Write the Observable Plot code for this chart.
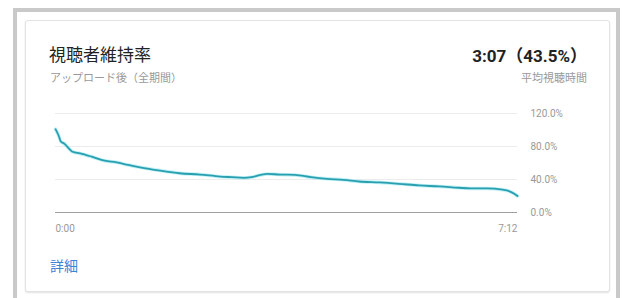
<!DOCTYPE html>
<html><head><meta charset="utf-8">
<script src="https://cdn.jsdelivr.net/npm/d3@7"></script>
<script src="https://cdn.jsdelivr.net/npm/@observablehq/plot@0.6"></script>
<style>
html,body{margin:0;padding:0;width:625px;height:298px;overflow:hidden;background:#fff;font-family:"Noto Sans CJK JP","Noto Sans",Roboto,sans-serif;}
#outer{position:absolute;left:13px;top:8px;width:607px;height:300px;border:4px solid #c9c9c9;border-bottom:none;box-sizing:border-box;}
#card{position:absolute;left:25px;top:20px;width:585px;height:272px;border:1px solid #e3e3e3;border-radius:3px;box-shadow:0 1px 2px rgba(0,0,0,0.12);box-sizing:border-box;background:#fff;}
.t{position:absolute;white-space:nowrap;}
#chart{position:absolute;left:0;top:0;}
</style></head>
<body>
<div id="outer"></div>
<div id="card"></div>
<div class="t" style="left:49px;top:45px;font-size:17px;line-height:17px;color:#222;">視聴者維持率</div>
<div class="t" style="left:50px;top:72px;font-size:11px;line-height:11px;color:#999;">アップロード後（全期間）</div>
<div class="t" style="right:38px;top:48px;font-size:17px;line-height:17px;color:#222;font-weight:bold;font-family:Roboto,'Noto Sans CJK JP',sans-serif;">3:07（43.5%）</div>
<div class="t" style="right:38px;top:72px;font-size:11px;line-height:11px;color:#999;">平均視聴時間</div>
<div class="t" style="left:50px;top:258px;font-size:14px;line-height:14px;color:#3e82d8;">詳細</div>
<div id="chart"></div>
<script>
const seconds = [0,3,5,8,16,23,34,46,57,68,79,98,116,135,154,165,176,183,191,198,210,224,239,254,269,284,303,321,340,359,377,388,403,418,424,429,432];
const retention = [101,93,86,83.6,73.6,71.6,67.6,62.8,60.8,57.6,54.8,50.8,47.6,46,43.6,42.8,42,42.8,45.2,46.8,46,45.6,42.8,40.8,39.6,37.6,36.4,34.8,32.8,31.6,30,29.2,29.2,27.6,26,22.8,20];
const yTicks = [0,40,80,120];
const yTickLabels = ["0.0%","40.0%","80.0%","120.0%"];
const xTicks = [0,432];
const xTickLabels = ["0:00","7:12"];

const data = seconds.map((s,i)=>({s, r: retention[i]}));

const chart = Plot.plot({
  width: 625,
  height: 298,
  marginLeft: 55,
  marginRight: 108,
  marginTop: 113,
  marginBottom: 86,
  style: {fontFamily: "Roboto, sans-serif", fontSize: "10px", background: "transparent", overflow: "visible"},
  x: {domain: [0, 432], axis: null},
  y: {domain: [0, 120], axis: null},
  marks: [
    Plot.ruleY(yTicks.filter(d => d > 0), {stroke: "#ececec", strokeWidth: 1}),
    Plot.ruleY([0], {stroke: "#9e9e9e", strokeWidth: 1}),
    Plot.axisY({anchor: "right", ticks: yTicks, tickSize: 0, tickPadding: 13, tickFormat: (d) => yTickLabels[yTicks.indexOf(d)], label: null, color: "#999", textAnchor: "start"}),
    Plot.text([xTicks[0]], {x: d => d, y: 0, text: () => xTickLabels[0], textAnchor: "start", dy: 16, fill: "#999"}),
    Plot.text([xTicks[1]], {x: d => d, y: 0, text: () => xTickLabels[1], textAnchor: "end", dy: 16, fill: "#999"}),
    Plot.line(data, {x: "s", y: "r", stroke: "#7fe3ee", strokeWidth: 3.5, strokeOpacity: 0.5, curve: "monotone-x"}),
    Plot.line(data, {x: "s", y: "r", stroke: "#2a9fb0", strokeWidth: 1.8, curve: "monotone-x"})
  ]
});
document.getElementById("chart").appendChild(chart);
</script>
</body></html>
